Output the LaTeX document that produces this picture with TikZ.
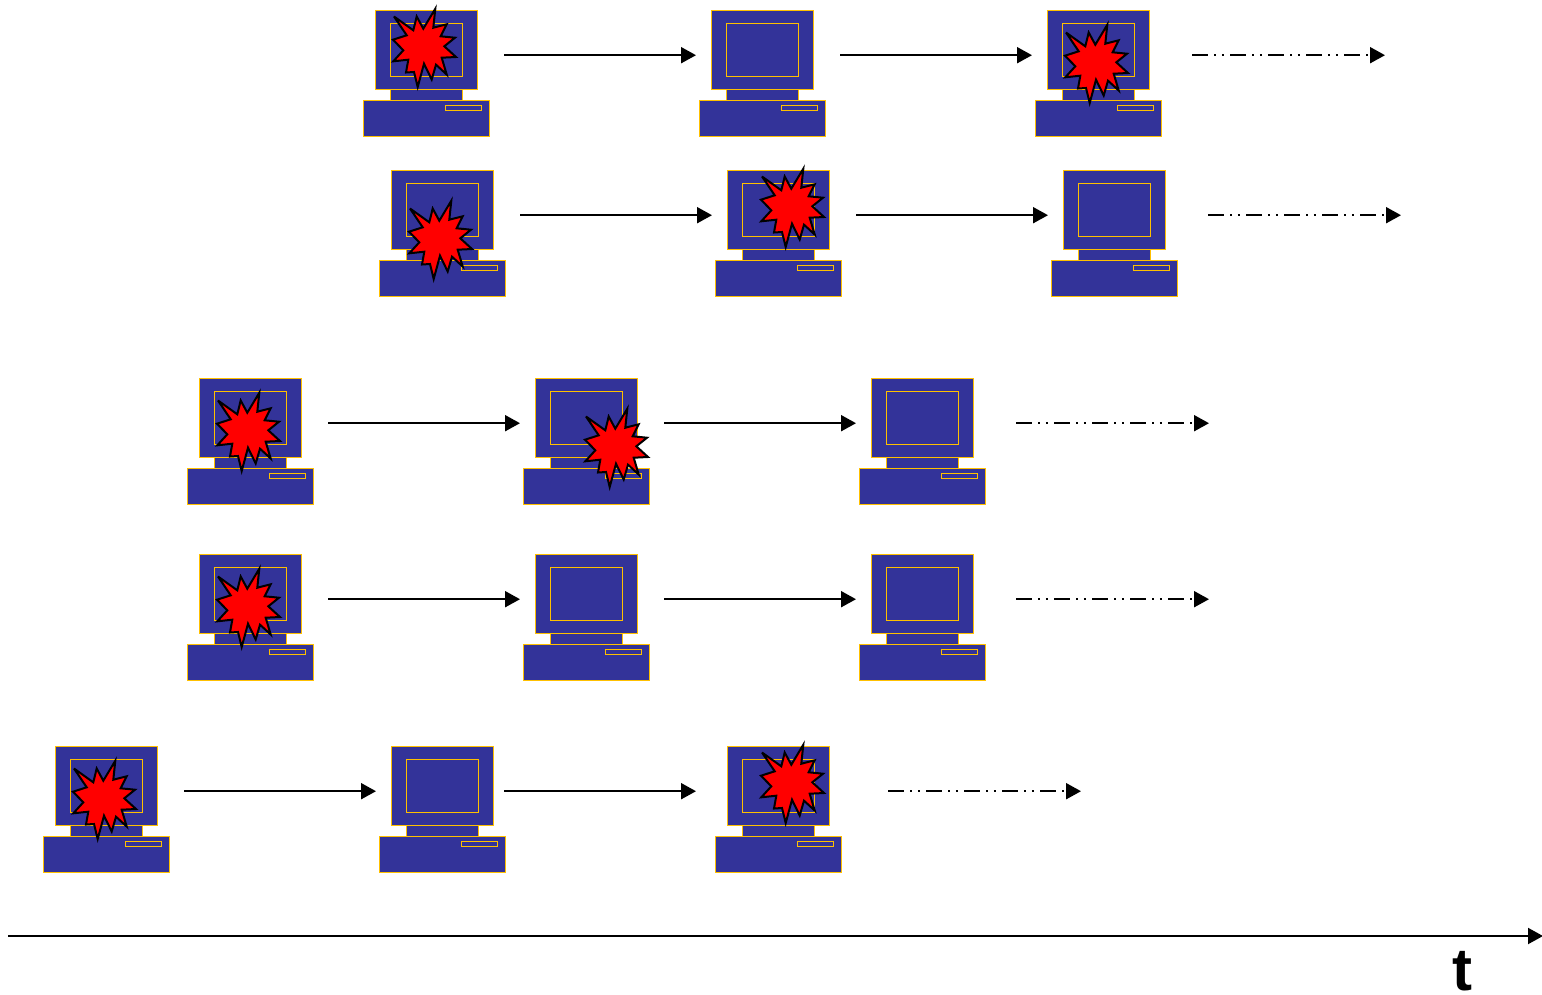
\documentclass[tikz,border=0pt]{standalone}
\usepackage{fontspec}
\setmainfont{Liberation Sans}
\usetikzlibrary{arrows.meta}
\definecolor{pcblue}{HTML}{333399}
\definecolor{pcgold}{HTML}{FFC000}
\tikzset{
  x=1pt,y=-1pt,
  pcpart/.style={draw=pcgold,fill=pcblue,line width=1pt},
  burstshape/.style={draw=black,fill=red,line width=2pt,line join=miter,miter limit=5},
  flow/.style={draw=black,line width=2pt,-{Triangle[length=15pt,width=16pt]}},
  flowdash/.style={flow,dash pattern=on 16pt off 6pt on 1.8pt off 6pt on 1.8pt off 6.4pt},
  pics/computer/.style={code={
    \path[pcpart] (15,79) rectangle (87,90);
    \path[pcpart] (0,0) rectangle (102.5,79);
    \path[pcpart] (15,13) rectangle (87,66);
    \path[pcpart] (-12,90) rectangle (114.5,126);
    \path[pcpart] (70,95.5) rectangle (106,100);
  }},
  pics/burst/.style={code={
    \path[burstshape] (11.3,-38.3) -- (9.3,-19.3) -- (22.7,-22.7) -- (16.7,-10.7) -- (31,-9.3)
      -- (20.3,-0.7) -- (32,10) -- (17.7,10.7) -- (22.7,27.5) -- (12,17.7) -- (7.7,32.5)
      -- (0,16.7) -- (-6.3,40) -- (-10,25) -- (-18,25.5) -- (-15.7,12.7) -- (-30.7,14.3)
      -- (-20.7,3.3) -- (-31,-7.3) -- (-17.3,-11.7) -- (-30,-30.5) -- (-10.7,-16.7)
      -- (-7.3,-30.5) -- (-0.7,-18.3) -- cycle;
  }}
}
\begin{document}
\begin{tikzpicture}
\useasboundingbox (0,0) rectangle (1542,994);
% computers
\foreach \n/\px/\py in {a1/375/10,a2/711/10,a3/1047/10,
                        b1/391/170,b2/727/170,b3/1063/170,
                        c1/199/378,c2/535/378,c3/871/378,
                        d1/199/554,d2/535/554,d3/871/554,
                        e1/55/746,e2/391/746,e3/727/746}
  \pic (\n) at (\px,\py) {computer};
% bursts
\foreach \n/\px/\py in {a1/424/47,a3/1096/63,b1/440/239,b2/792/207,
                        c1/248/431,c2/616/447,d1/248/607,e1/104/799,e3/792/783}
  \pic (burst\n) at (\px,\py) {burst};
% arrow ends
\coordinate (a1s) at (504,55.2);  \coordinate (a1e) at (696,55.2);
\coordinate (a2s) at (840,55.2);  \coordinate (a2e) at (1032,55.2);
\coordinate (a3s) at (1192,55.2); \coordinate (a3e) at (1385,55.2);
\coordinate (b1s) at (520,215.2); \coordinate (b1e) at (712,215.2);
\coordinate (b2s) at (856,215.2); \coordinate (b2e) at (1048,215.2);
\coordinate (b3s) at (1208,215.2);\coordinate (b3e) at (1401,215.2);
\coordinate (c1s) at (328,423.2); \coordinate (c1e) at (520,423.2);
\coordinate (c2s) at (664,423.2); \coordinate (c2e) at (856,423.2);
\coordinate (c3s) at (1016,423.2);\coordinate (c3e) at (1209,423.2);
\coordinate (d1s) at (328,599.2); \coordinate (d1e) at (520,599.2);
\coordinate (d2s) at (664,599.2); \coordinate (d2e) at (856,599.2);
\coordinate (d3s) at (1016,599.2);\coordinate (d3e) at (1209,599.2);
\coordinate (e1s) at (184,791.2); \coordinate (e1e) at (376,791.2);
\coordinate (e2s) at (504,791.2); \coordinate (e2e) at (696,791.2);
\coordinate (e3s) at (888,791.2); \coordinate (e3e) at (1081,791.2);
\coordinate (ts) at (8,936);    \coordinate (te) at (1543,936);
\foreach \r in {a,b,c,d,e}{
  \draw[flow] (\r1s) -- (\r1e);
  \draw[flow] (\r2s) -- (\r2e);
  \draw[flowdash] (\r3s) -- (\r3e);
}
\draw[flow] (ts) -- (te);
\node[font=\bfseries\fontsize{60}{60}\selectfont,inner sep=0pt,anchor=base] (tlabel) at (1462,990.5) {t};
\end{tikzpicture}
\end{document}
